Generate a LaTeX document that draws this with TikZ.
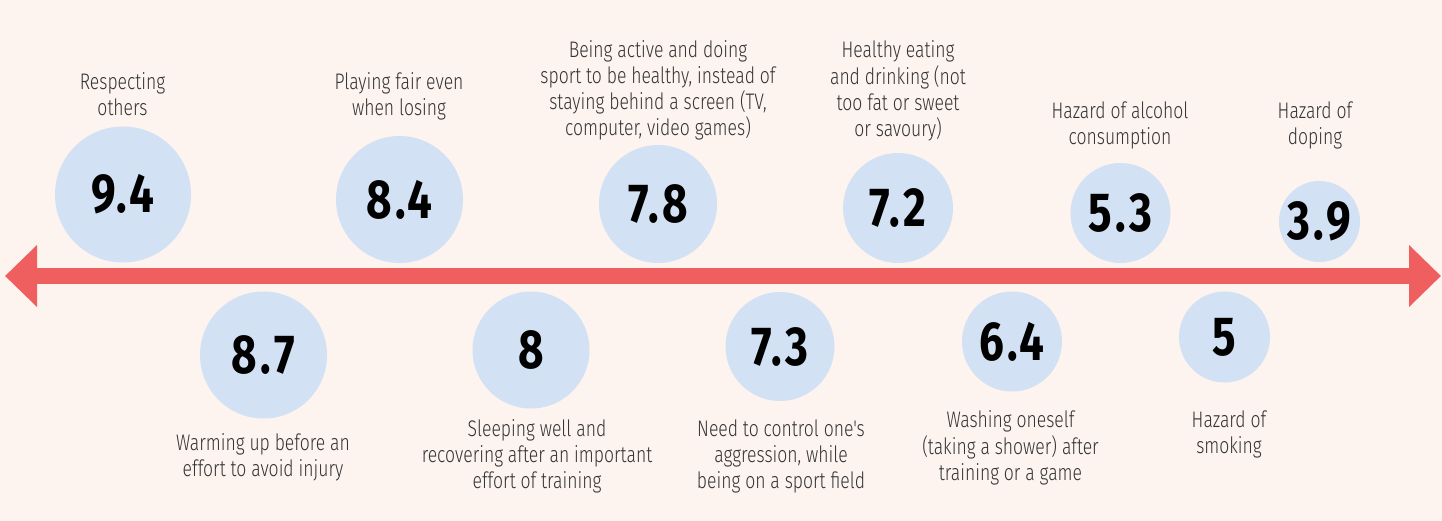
\documentclass[tikz,border=0pt]{standalone}
\usepackage{fontspec}
\usetikzlibrary{arrows.meta}
\newfontfamily\labf[FakeStretch=0.78]{Fira Sans Light}
\newfontfamily\numf[FakeStretch=0.8,LetterSpace=6]{Fira Sans}
\definecolor{bgc}{HTML}{FDF3EF}
\definecolor{cblue}{HTML}{D2E2F4}
\definecolor{rred}{HTML}{F05F5F}
\definecolor{txt}{HTML}{333333}
\tikzset{
  val/.style={circle, fill=cblue, inner sep=0pt, minimum size=#1,
    font=\numf\bfseries\fontsize{55}{60}\selectfont, text=black},
  lab/.style={anchor=north, inner sep=0pt, align=center, text=txt,
    font=\labf\fontsize{22.5}{26}\selectfont}
}
\begin{document}
\begin{tikzpicture}[x=1pt,y=-1pt]
\fill[bgc] (0,0) rectangle (1442,521);
\useasboundingbox (0,0) rectangle (1442,521);
% axis
\coordinate (L) at (5,276);
\coordinate (R) at (1441,276);
\draw[rred, line width=16pt, {Triangle[length=32pt,width=60pt]}-{Triangle[length=32pt,width=60pt]}] (L) -- (R);
% circles
\node[val=136] (c94) at (123,194.5) {9.4};
\node[val=127] (c87) at (263.5,355) {8.7};
\node[val=127] (c84) at (399.5,199.5) {8.4};
\node[val=117] (c8) at (531,350) {8};
\node[val=118] (c78) at (658,204) {7.8};
\node[val=109] (c73) at (780,346.5) {7.3};
\node[val=110] (c72) at (898,208) {7.2};
\node[val=100] (c64) at (1012,341.5) {6.4};
\node[val=100] (c53) at (1120.5,213) {5.3};
\node[val=91] (c5) at (1224.5,337) {5};
\node[val=81] (c39) at (1319.5,221.5) {3.9};
% labels (y = first baseline - 18.2)
\node[lab] (t94) at (122.5,70.8) {\strut Respecting\\others};
\node[lab] (t84) at (399,70.8) {\strut Playing fair even\\when losing};
\node[lab] (t78) at (658,38.8) {\strut Being active and doing\\sport to be healthy, instead of\\staying behind a screen (TV,\\computer, video games)};
\node[lab] (t72) at (898,38.8) {\strut Healthy eating\\and drinking (not\\too fat or sweet\\or savoury)};
\node[lab] (t53) at (1120,99.8) {\strut Hazard of alcohol\\consumption};
\node[lab] (t39) at (1315,99.8) {\strut Hazard of\\doping};
\node[lab] (t87) at (263,431.8) {\strut Warming up before an\\effort to avoid injury};
\node[lab] (t8) at (537,417.8) {\strut Sleeping well and\\recovering after an important\\effort of training};
\node[lab] (t73) at (781,417.8) {\strut Need to control one's\\aggression, while\\being on a sport field};
\node[lab] (t64) at (1010.5,408.8) {\strut Washing oneself\\(taking a shower) after\\training or a game};
\node[lab] (t5) at (1229,408.8) {\strut Hazard of\\smoking};
\end{tikzpicture}
\end{document}
